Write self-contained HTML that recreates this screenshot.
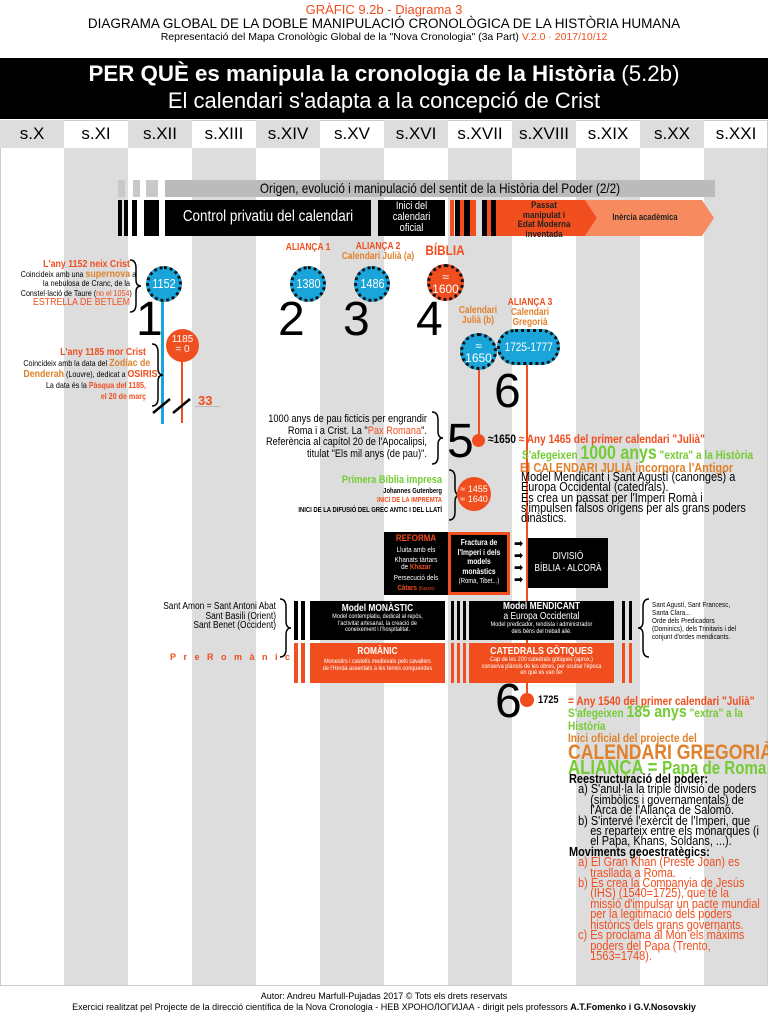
<!DOCTYPE html>
<html><head><meta charset="utf-8">
<style>
*{margin:0;padding:0;box-sizing:border-box}
body{width:768px;height:1014px;background:#fff;position:relative;overflow:hidden;font-family:"Liberation Sans","DejaVu Sans",sans-serif;color:#000}
.a{position:absolute;white-space:nowrap}
.c{text-align:center}
.r{text-align:right}
.o{color:#f04e1e}
.y{color:#e0812c}
.g{color:#74cc35}
.b{font-weight:bold}
.sx{transform:scaleX(.84);transform-origin:left top}
.sxr{transform:scaleX(.84);transform-origin:right top}
.sxc{transform:scaleX(.84);transform-origin:center top}
.circ{position:absolute;border-radius:50%;border:3px dotted #111;color:#fff;display:flex;align-items:center;justify-content:center;text-align:center;font-size:13px;line-height:12px;white-space:nowrap}
.blue{background:#19a4da}
.org{background:#f04e1e}
.big{position:absolute;font-family:"Liberation Sans",sans-serif;font-size:48px;line-height:48px}
.bk{position:absolute;background:#000}
.or{position:absolute;background:#f04e1e}
.box{position:absolute;color:#fff;text-align:center;white-space:nowrap}
</style></head><body>
<div class="a c o" style="left:0;width:768px;top:2px;font-size:13px">GRÀFIC 9.2b - Diagrama 3</div>
<div class="a c" style="left:0;width:768px;top:16px;font-size:13.5px">DIAGRAMA GLOBAL DE LA DOBLE MANIPULACIÓ CRONOLÒGICA DE LA HISTÒRIA HUMANA</div>
<div class="a c" style="left:0;width:768px;top:31px;font-size:10.5px">Representació del Mapa Cronològic Global de la "Nova Cronologia" (3a Part) <span class="o">V.2.0 · 2017/10/12</span></div>
<div class="bk" style="left:0;top:58px;width:768px;height:61px"></div>
<div class="a c b" style="left:0;width:768px;top:61px;font-size:22.3px;color:#fff">PER QUÈ es manipula la cronologia de la Història <span style="font-weight:normal">(5.2b)</span></div>
<div class="a c" style="left:0;width:768px;top:88px;font-size:22px;color:#fff">El calendari s'adapta a la concepció de Crist</div>
<div style="position:absolute;left:0;top:120px;width:768px;height:866px;border:1px solid #ccc"></div>
<div class="a" style="left:0;top:120px;width:768px;height:28px;display:flex;font-size:17px;line-height:28px">
<div style="width:64px;background:#ddd;text-align:center">s.X</div><div style="width:64px;text-align:center">s.XI</div><div style="width:64px;background:#ddd;text-align:center">s.XII</div><div style="width:64px;text-align:center">s.XIII</div><div style="width:64px;background:#ddd;text-align:center">s.XIV</div><div style="width:64px;text-align:center">s.XV</div><div style="width:64px;background:#ddd;text-align:center">s.XVI</div><div style="width:64px;text-align:center">s.XVII</div><div style="width:64px;background:#ddd;text-align:center">s.XVIII</div><div style="width:64px;text-align:center">s.XIX</div><div style="width:64px;background:#ddd;text-align:center">s.XX</div><div style="width:64px;text-align:center">s.XXI</div></div>
<div style="position:absolute;left:64px;top:148px;width:64px;height:837px;background:#ddd"></div>
<div style="position:absolute;left:192px;top:148px;width:64px;height:837px;background:#ddd"></div>
<div style="position:absolute;left:320px;top:148px;width:64px;height:837px;background:#ddd"></div>
<div style="position:absolute;left:448px;top:148px;width:64px;height:837px;background:#ddd"></div>
<div style="position:absolute;left:576px;top:148px;width:64px;height:837px;background:#ddd"></div>
<div style="position:absolute;left:704px;top:148px;width:63px;height:837px;background:#ddd"></div>
<div style="position:absolute;left:118px;top:180px;width:7px;height:17px;background:#c8c8c8"></div>
<div style="position:absolute;left:133px;top:180px;width:7px;height:17px;background:#c8c8c8"></div>
<div style="position:absolute;left:146px;top:180px;width:12px;height:17px;background:#c8c8c8"></div>
<div style="position:absolute;left:165px;top:180px;width:550px;height:17px;background:#bbb"></div>
<div class="a c sxc" style="left:165px;width:550px;top:180px;font-size:14px;line-height:17px">Origen, evolució i manipulació del sentit de la Història del Poder (2/2)</div>
<div class="bk" style="left:118px;top:200px;width:4px;height:36px"></div>
<div class="bk" style="left:124px;top:200px;width:4px;height:36px"></div>
<div class="bk" style="left:132px;top:200px;width:5px;height:36px"></div>
<div class="bk" style="left:144px;top:200px;width:15px;height:36px"></div>
<div class="bk" style="left:165px;top:200px;width:206px;height:36px"></div>
<div class="a c sxc" style="left:165px;width:206px;top:208px;font-size:16px;color:#fff">Control privatiu del calendari</div>
<div class="bk" style="left:378px;top:200px;width:67px;height:36px"></div>
<div class="a c sxc" style="left:378px;width:67px;top:201px;font-size:11px;line-height:11px;color:#fff">Inici del<br>calendari<br>oficial</div>
<div class="or" style="left:450px;top:200px;width:4px;height:36px"></div>
<div class="bk" style="left:455px;top:200px;width:5px;height:36px"></div>
<div class="or" style="left:460px;top:200px;width:4px;height:36px"></div>
<div class="bk" style="left:464px;top:200px;width:6px;height:36px"></div>
<div class="or" style="left:470px;top:200px;width:6px;height:36px"></div>
<div class="bk" style="left:482px;top:200px;width:5px;height:36px"></div>
<div class="or" style="left:487px;top:200px;width:4px;height:36px"></div>
<div class="bk" style="left:491px;top:200px;width:5px;height:36px"></div>
<div class="or" style="left:496px;top:200px;width:10px;height:36px"></div>
<svg style="position:absolute;left:506px;top:200px" width="212" height="36"><polygon points="0,0 79,0 91,18 79,36 0,36" fill="#f04e1e"/><polygon points="79,0 196,0 208,18 196,36 79,36 91,18" fill="#f78a5f"/></svg>
<div class="a c b sxc" style="left:506px;width:76px;top:201px;font-size:9.5px;line-height:9.5px;color:#222">Passat<br>manipulat i<br>Edat Moderna<br>inventada</div>
<div class="a c b sxc" style="left:590px;width:110px;top:212px;font-size:9px;color:#222">Inèrcia acadèmica</div>
<div class="a c b o sxc" style="left:278px;width:60px;top:242px;font-size:10px">ALIANÇA 1</div>
<div class="a c b o sxc" style="left:328px;width:100px;top:242px;font-size:10px;line-height:10px">ALIANÇA 2<br><span class="y">Calendari Julià (a)</span></div>
<div class="a c b o sxc" style="left:415px;width:60px;top:242px;font-size:14px">BÍBLIA</div>
<div class="a c b y sxc" style="left:450px;width:56px;top:306px;font-size:10px;line-height:10px">Calendari<br>Julià (b)</div>
<div class="a c b o sxc" style="left:500px;width:60px;top:298px;font-size:10px;line-height:10px">ALIANÇA 3<br><span class="y">Calendari<br>Gregorià</span></div>
<div style="position:absolute;left:161px;top:300px;width:3px;height:124px;background:#19a4da"></div>
<div style="position:absolute;left:181px;top:355px;width:2px;height:68px;background:#f04e1e"></div>
<div style="position:absolute;left:478px;top:365px;width:2px;height:76px;background:#f04e1e"></div>
<div style="position:absolute;left:526px;top:362px;width:2px;height:338px;background:#f04e1e"></div>
<div style="position:absolute;left:195px;top:406px;width:25px;height:1px;background:#bbb"></div>
<svg style="position:absolute;left:150px;top:396px" width="45" height="20"><line x1="3" y1="17" x2="20" y2="3" stroke="#000" stroke-width="2.5"/><line x1="23" y1="17" x2="40" y2="3" stroke="#000" stroke-width="2.5"/></svg>
<div class="a b o" style="left:198px;top:393px;font-size:13px">33</div>
<div class="circ blue" style="left:146px;top:266px;width:36px;height:36px"><span class="sxc" style="display:inline-block">1152</span></div>
<div class="circ blue" style="left:290px;top:266px;width:36px;height:36px"><span class="sxc" style="display:inline-block">1380</span></div>
<div class="circ blue" style="left:354px;top:266px;width:36px;height:36px"><span class="sxc" style="display:inline-block">1486</span></div>
<div class="circ org" style="left:427px;top:264px;width:37px;height:37px;font-size:12px">≈<br>1600</div>
<div class="circ blue" style="left:460px;top:333px;width:37px;height:37px;font-size:12px">≈<br>1650</div>
<div class="circ blue" style="left:497px;top:329px;width:63px;height:36px;border-radius:18px;font-size:12px"><span class="sxc" style="display:inline-block">1725-1777</span></div>
<div style="position:absolute;left:166px;top:329px;width:33px;height:33px;border-radius:50%;background:#f04e1e;color:#fff;font-size:10px;line-height:10px;text-align:center;padding-top:6px">1185<br>= 0</div>
<div class="big" style="left:136px;top:296px">1</div>
<div class="big" style="left:278px;top:296px">2</div>
<div class="big" style="left:343px;top:296px">3</div>
<div class="big" style="left:416px;top:296px">4</div>
<div class="big" style="left:494px;top:368px">6</div>
<div class="big" style="left:447px;top:418px">5</div>
<div class="big" style="left:495px;top:678px">6</div>
<div class="a r sxr" style="left:0;width:130px;top:260px;font-size:8.5px;line-height:9.5px"><span class="o b" style="font-size:10.5px">L'any 1152 neix Crist</span><br>Coincideix amb una <span class="y b" style="font-size:10.5px">supernova</span> a<br>la nebulosa de Cranc, de la<br>Constel·lació de Taure (<span class="o">no el 1054</span>)<br><span class="o" style="font-size:10.5px">ESTRELLA DE BETLEM</span></div>
<svg style="position:absolute;left:128px;top:258px" width="16" height="56"><path d="M2 2 Q8 2 8 10 L8 22 Q8 28 13 28 Q8 28 8 34 L8 46 Q8 54 2 54" fill="none" stroke="#000" stroke-width="1.5"/></svg>
<div class="a r sxr" style="left:0;width:146px;top:347px;font-size:8.5px;line-height:11px"><span class="o b" style="font-size:10.5px">L'any 1185 mor Crist</span><br>Coincideix amb la data del <span class="y b" style="font-size:10.5px">Zodíac de</span><br><span class="y b" style="font-size:10.5px">Denderah</span> (Louvre), dedicat a <span class="o b" style="font-size:10.5px">OSIRIS</span>.<br>La data és la <span class="o b">Pàsqua del 1185,</span><br><span class="o b">el 20 de març</span></div>
<svg style="position:absolute;left:150px;top:342px" width="16" height="66"><path d="M2 2 Q8 2 8 10 L8 26 Q8 33 13 33 Q8 33 8 40 L8 56 Q8 64 2 64" fill="none" stroke="#000" stroke-width="1.5"/></svg>
<div class="a r sxr" style="left:227px;width:200px;top:414px;font-size:11px;line-height:11.5px">1000 anys de pau ficticis per engrandir<br>Roma i a Crist. La "<span class="o">Pax Romana</span>".<br>Referència al capítol 20 de l'Apocalipsi,<br>titulat "Els mil anys (de pau)".</div>
<svg style="position:absolute;left:430px;top:410px" width="16" height="56"><path d="M2 2 Q8 2 8 10 L8 21 Q8 28 13 28 Q8 28 8 35 L8 46 Q8 54 2 54" fill="none" stroke="#000" stroke-width="1.5"/></svg>
<div style="position:absolute;left:472px;top:434px;width:13px;height:13px;border-radius:50%;background:#f04e1e"></div>
<div class="a b sx" style="left:488px;top:432px;font-size:12px">≈1650 <span class="o">≈ Any 1465 del primer calendari "Julià"</span></div>
<div class="a b g sx" style="left:522px;top:443px;font-size:12px">S'afegeixen <span style="font-size:19px">1000 anys</span> "extra" a la Història</div>
<div class="a b y sx" style="left:520px;top:460px;font-size:13px">El CALENDARI JULIÀ incorpora l'Antigor</div>
<div class="a sx" style="left:521px;top:472px;font-size:13px;line-height:10.3px">Model Mendicant i Sant Agustí (canonges) a<br>Europa Occidental (catedrals).<br>Es crea un passat per l'Imperi Romà i<br>s'impulsen falsos orígens per als grans poders<br>dinàstics.</div>
<div class="a r b sxr" style="left:230px;width:212px;top:476px;font-size:7px;line-height:9.5px"><span class="g" style="font-size:11px">Primera Bíblia impresa</span><br>Johannes Gutenberg<br><span class="o">INICI DE LA IMPREMTA</span><br>INICI DE LA DIFUSIÓ DEL GREC ANTIC I DEL LLATÍ</div>
<svg style="position:absolute;left:447px;top:468px" width="16" height="54"><path d="M2 2 Q8 2 8 10 L8 20 Q8 27 13 27 Q8 27 8 34 L8 44 Q8 52 2 52" fill="none" stroke="#000" stroke-width="1.5"/></svg>
<div style="position:absolute;left:457px;top:477px;width:34px;height:34px;border-radius:50%;background:#f04e1e;color:#fff;font-size:9px;line-height:10px;text-align:center;padding-top:7px;white-space:nowrap">≈ 1455<br>≈ 1640</div>
<div class="bk" style="left:384px;top:532px;width:64px;height:63px"></div>
<div class="box sxc" style="left:384px;top:535px;width:64px;font-size:7.5px;line-height:7.5px"><span class="o b" style="font-size:9.5px">REFORMA</span><br><span style="line-height:13px">Lluita amb els</span><br>Khanats tàrtars<br>de <span class="o b">Khazar</span><br><span style="line-height:13px">Persecució dels</span><br><span class="o b">Càtars</span> <span class="o" style="font-size:5px">(Kazars)</span></div>
<div style="position:absolute;left:448px;top:532px;width:62px;height:63px;background:#000;border:3px solid #f04e1e"></div>
<div class="box b sxc" style="left:448px;top:538px;width:62px;font-size:8px;line-height:9.5px">Fractura de<br>l'Imperi i dels<br>models<br>monàstics<br><span style="font-weight:normal;font-size:7px">(Roma, Tibet...)</span></div>
<div class="a b" style="left:514px;top:538px;font-size:11px;line-height:12px">➡<br>➡<br>➡<br>➡</div>
<div class="bk" style="left:528px;top:538px;width:80px;height:50px"></div>
<div class="box sxc" style="left:528px;top:551px;width:80px;font-size:10px;line-height:12px">DIVISIÓ<br>BÍBLIA - ALCORÀ</div>
<div class="a r sxr" style="left:130px;width:146px;top:602px;font-size:10px;line-height:9.5px">Sant Amon = Sant Antoni Abat<br>Sant Basili (Orient)<br>Sant Benet (Occident)</div>
<svg style="position:absolute;left:278px;top:597px" width="16" height="62"><path d="M2 2 Q8 2 8 10 L8 24 Q8 31 13 31 Q8 31 8 38 L8 52 Q8 60 2 60" fill="none" stroke="#000" stroke-width="1.5"/></svg>
<div class="bk" style="left:294px;top:601px;width:4px;height:39px"></div>
<div class="bk" style="left:301px;top:601px;width:4px;height:39px"></div>
<div class="bk" style="left:310px;top:601px;width:135px;height:39px"></div>
<div class="box sxc" style="left:310px;top:603px;width:135px;font-size:6.5px;line-height:6.5px"><b style="font-size:10px;line-height:11px">Model MONÀSTIC</b><br>Model contemplatiu, dedicat al repòs,<br>l'activitat artesanal, la creació de<br>coneixement i l'hospitalitat.</div>
<div class="bk" style="left:451px;top:601px;width:3px;height:39px"></div>
<div class="bk" style="left:457px;top:601px;width:3px;height:39px"></div>
<div class="bk" style="left:463px;top:601px;width:3px;height:39px"></div>
<div class="bk" style="left:469px;top:601px;width:145px;height:39px"></div>
<div class="box sxc" style="left:469px;top:602px;width:145px;font-size:6.5px;line-height:6.5px"><b style="font-size:10px;line-height:10px">Model MENDICANT</b><br><span style="font-size:10px;line-height:10px">a Europa Occidental</span><br>Model predicador, rendista i administrador<br>dels béns del treball aliè.</div>
<div class="bk" style="left:622px;top:601px;width:3px;height:39px"></div>
<div class="bk" style="left:629px;top:601px;width:3px;height:39px"></div>
<svg style="position:absolute;left:635px;top:597px" width="16" height="62"><path d="M14 2 Q8 2 8 10 L8 24 Q8 31 3 31 Q8 31 8 38 L8 52 Q8 60 14 60" fill="none" stroke="#000" stroke-width="1.5"/></svg>
<div class="a sx" style="left:652px;top:601px;font-size:7.5px;line-height:8px">Sant Agustí, Sant Francesc,<br>Santa Clara...<br>Orde dels Predicadors<br>(Dominics), dels Trinitaris i del<br>conjunt d'ordes mendicants.</div>
<div class="a b o" style="left:170px;top:652px;font-size:9px;letter-spacing:7.5px">PreRomànic</div>
<div class="or" style="left:294px;top:643px;width:4px;height:40px"></div>
<div class="or" style="left:301px;top:643px;width:4px;height:40px"></div>
<div class="or" style="left:310px;top:643px;width:135px;height:40px"></div>
<div class="box sxc" style="left:310px;top:645px;width:135px;font-size:6.5px;line-height:6.5px"><b style="font-size:10px;line-height:14px">ROMÀNIC</b><br>Monestirs i castells medievals pels cavallers<br>de l'Horda assentats a les terres conquerides</div>
<div class="or" style="left:451px;top:643px;width:3px;height:40px"></div>
<div class="or" style="left:457px;top:643px;width:3px;height:40px"></div>
<div class="or" style="left:463px;top:643px;width:3px;height:40px"></div>
<div class="or" style="left:469px;top:643px;width:145px;height:40px"></div>
<div class="box sxc" style="left:469px;top:645px;width:145px;font-size:6.5px;line-height:6.5px"><b style="font-size:10.5px;line-height:12px">CATEDRALS GÒTIQUES</b><br>Cap de les 200 catedrals gòtiques (aprox.)<br>conserva plànols de les obres, per ocultar l'època<br>en què es van fer</div>
<div class="or" style="left:622px;top:643px;width:3px;height:40px"></div>
<div class="or" style="left:629px;top:643px;width:3px;height:40px"></div>
<div style="position:absolute;left:520px;top:693px;width:14px;height:14px;border-radius:50%;background:#f04e1e"></div>
<div class="a b sx" style="left:538px;top:694px;font-size:11px">1725</div>
<div class="a b o sx" style="left:568px;top:694px;font-size:12px">= Any 1540 del primer calendari "Julià"</div>
<div class="a b g sx" style="left:568px;top:705px;font-size:12px;line-height:13px">S'afegeixen <span style="font-size:17px">185 anys</span> "extra" a la<br>Història</div>
<div class="a b y sx" style="left:568px;top:731px;font-size:12px">Inici oficial del projecte del</div>
<div class="a b y sx" style="left:568px;top:741px;font-size:21px">CALENDARI GREGORIÀ</div>
<div class="a b g sx" style="left:568px;top:757px;font-size:20px">ALIANÇA = <span style="font-size:18px">Papa de Roma</span></div>
<div class="a sx" style="left:569px;top:774px;font-size:13px;line-height:10.4px"><b>Reestructuració del poder:</b><br>&nbsp;&nbsp;&nbsp;a) S'anul·la la triple divisió de poders<br>&nbsp;&nbsp;&nbsp;&nbsp;&nbsp;&nbsp;&nbsp;(simbòlics i governamentals) de<br>&nbsp;&nbsp;&nbsp;&nbsp;&nbsp;&nbsp;&nbsp;l'Arca de l'Aliança de Salomó.<br>&nbsp;&nbsp;&nbsp;b) S'intervé l'exèrcit de l'Imperi, que<br>&nbsp;&nbsp;&nbsp;&nbsp;&nbsp;&nbsp;&nbsp;es reparteix entre els monarques (i<br>&nbsp;&nbsp;&nbsp;&nbsp;&nbsp;&nbsp;&nbsp;el Papa, Khans, Soldans, ...).<br><b>Moviments geoestratègics:</b><br><span class="o">&nbsp;&nbsp;&nbsp;a) El Gran Khan (Preste Joan) es<br>&nbsp;&nbsp;&nbsp;&nbsp;&nbsp;&nbsp;&nbsp;trasllada a Roma.<br>&nbsp;&nbsp;&nbsp;b) Es crea la Companyia de Jesús<br>&nbsp;&nbsp;&nbsp;&nbsp;&nbsp;&nbsp;&nbsp;(IHS) (1540=1725), que té la<br>&nbsp;&nbsp;&nbsp;&nbsp;&nbsp;&nbsp;&nbsp;missió d'impulsar un pacte mundial<br>&nbsp;&nbsp;&nbsp;&nbsp;&nbsp;&nbsp;&nbsp;per la legitimació dels poders<br>&nbsp;&nbsp;&nbsp;&nbsp;&nbsp;&nbsp;&nbsp;històrics dels grans governants.<br>&nbsp;&nbsp;&nbsp;c) Es proclama al Món els màxims<br>&nbsp;&nbsp;&nbsp;&nbsp;&nbsp;&nbsp;&nbsp;poders del Papa (Trento,<br>&nbsp;&nbsp;&nbsp;&nbsp;&nbsp;&nbsp;&nbsp;1563=1748).</span></div>
<div class="a c" style="left:0;width:768px;top:991px;font-size:9px">Autor: Andreu Marfull-Pujadas 2017 © Tots els drets reservats</div>
<div class="a c" style="left:0;width:768px;top:1002px;font-size:9px">Exercici realitzat pel Projecte de la direcció científica de la Nova Cronologia - НЕВ ХРОНОЛОГИJАА - dirigit pels professors <b>A.T.Fomenko i G.V.Nosovskiy</b></div>
</body></html>
